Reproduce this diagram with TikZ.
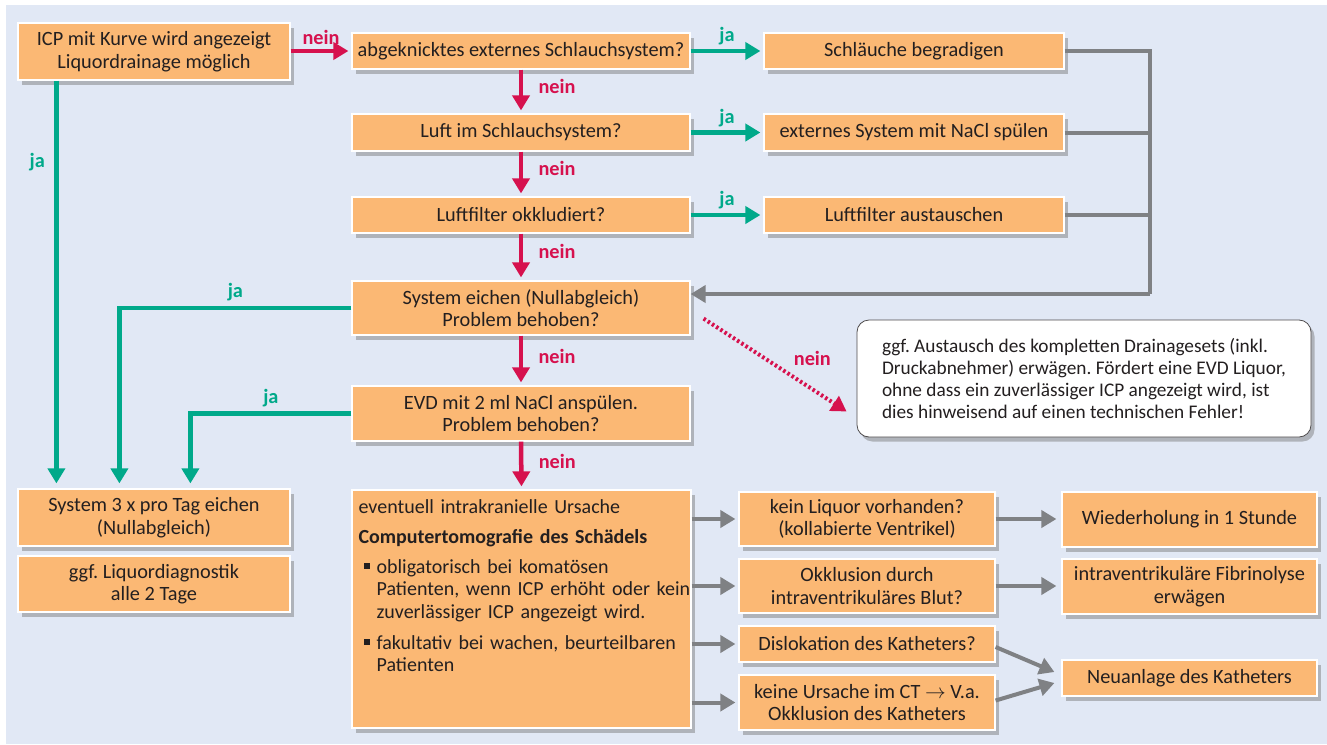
\documentclass[tikz,border=0pt]{standalone}
\usepackage{fontspec}
\setmainfont{Carlito}
\usetikzlibrary{arrows.meta,shadows,calc}
\definecolor{bgblue}{HTML}{E1E8F5}
\definecolor{boxor}{HTML}{FBB874}
\definecolor{neinred}{HTML}{D6114E}
\definecolor{jagreen}{HTML}{00A98A}
\definecolor{linegray}{HTML}{7F8184}
\definecolor{txt}{HTML}{231F20}
\tikzset{
  box/.style={draw=white, line width=1.2pt, fill=boxor, text=txt, align=center,
    inner sep=2pt, font=\fontsize{20.3}{22.5}\selectfont\frenchspacing,
    drop shadow={shadow xshift=3.5pt, shadow yshift=-4.5pt, fill=black!55, opacity=0.45}},
  notebox/.style={draw=txt!80, line width=0.8pt, fill=white, rounded corners=12pt, text=txt,
    align=left, font=\fontsize{19.3}{22}\selectfont\frenchspacing,
    drop shadow={shadow xshift=3.5pt, shadow yshift=-4.5pt, fill=black!55, opacity=0.45}},
  nein/.style={draw=neinred, line width=4.5pt, -{Triangle[length=15pt,width=17pt]}, shorten >=3pt},
  ja/.style={draw=jagreen, line width=4.5pt, -{Triangle[length=15pt,width=17pt]}, shorten >=3pt},
  grayarr/.style={draw=linegray, line width=4pt, -{Triangle[length=15pt,width=17pt]}, shorten >=3pt},
  grayline/.style={draw=linegray, line width=4pt},
  dotarr/.style={draw=neinred, line width=4pt, dash pattern=on 2.5pt off 2.5pt, -{Triangle[length=15pt,width=17pt]}},
  neinlab/.style={text=neinred, font=\fontsize{20.3}{22}\selectfont\bfseries},
  jalab/.style={text=jagreen, font=\fontsize{20.3}{22}\selectfont\bfseries},
}
\newcommand{\sqbullet}{\makebox[13pt][l]{\rule[0.22em]{0.3em}{0.3em}}}
\begin{document}
\begin{tikzpicture}[x=1pt,y=-1pt]
\useasboundingbox (0,0) rectangle (1327,744);
\fill[white] (0,0) rectangle (1327,744);
\fill[bgblue] (6,5) rectangle (1327,744);

% left column
\node[box, minimum width=272pt, minimum height=57pt] (A) at (154,51.5) {ICP mit Kurve wird angezeigt\\Liquordrainage möglich};
\node[box, minimum width=272pt, minimum height=57pt] (L1) at (154,517.5) {System 3 x pro Tag eichen\\(Nullabgleich)};
\node[box, minimum width=272pt, minimum height=56pt] (L2) at (154,584) {ggf. Liquordiagnostik\\alle 2 Tage};

% middle column
\node[box, minimum width=338pt, minimum height=36pt] (B) at (521,51) {abgeknicktes externes Schlauchsystem?};
\node[box, minimum width=338pt, minimum height=37pt] (C) at (521,132.5) {Luft im Schlauchsystem?};
\node[box, minimum width=338pt, minimum height=36pt] (D) at (521,215) {Luftfilter okkludiert?};
\node[box, minimum width=338pt, minimum height=54pt] (E) at (521,308) {System eichen (Nullabgleich)\\Problem behoben?};
\node[box, minimum width=338pt, minimum height=55pt] (F) at (521,413.5) {EVD mit 2 ml NaCl anspülen.\\Problem behoben?};
\node[box, minimum width=339pt, minimum height=238pt] (G) at (521.5,609) {};
\node[anchor=north west, text=txt, align=left, text width=360pt, inner sep=0pt,
  font=\fontsize{20}{22.5}\selectfont\frenchspacing] (Gtext) at ([xshift=7pt,yshift=-10pt]G.north west)
  {\raggedright eventuell intrakranielle Ursache\par\vspace{7.5pt}
   {\bfseries Computertomografie des Schädels}\par\vspace{7.5pt}
   \hangindent=18pt\hangafter=1\hspace*{5pt}\sqbullet obligatorisch bei komatösen\newline Patienten, wenn ICP erhöht oder kein\newline zuverlässiger ICP angezeigt wird.\par\vspace{8.5pt}
   \hangindent=18pt\hangafter=1\hspace*{5pt}\sqbullet fakultativ bei wachen, beurteilbaren\newline Patienten\par};

% right of middle
\node[box, minimum width=300pt, minimum height=36pt] (S1) at (914,51) {Schläuche begradigen};
\node[box, minimum width=300pt, minimum height=37pt] (S2) at (914,132.5) {externes System mit NaCl spülen};
\node[box, minimum width=300pt, minimum height=36pt] (S3) at (914,215) {Luftfilter austauschen};

\node[notebox, minimum width=454pt, minimum height=117pt] (N) at (1084,378.5)
  {ggf. Austausch des kompletten Drainagesets (inkl.\\Druckabnehmer) erwägen. Fördert eine EVD Liquor,\\ohne dass ein zuverlässiger ICP angezeigt wird, ist\\dies hinweisend auf einen technischen Fehler!};

% bottom right
\node[box, minimum width=256pt, minimum height=54pt] (R1) at (867,519) {kein Liquor vorhanden?\\(kollabierte Ventrikel)};
\node[box, minimum width=256pt, minimum height=54pt] (R2) at (867,586) {Okklusion durch\\intraventrikuläres Blut?};
\node[box, minimum width=256pt, minimum height=36pt] (R3) at (867,644) {Dislokation des Katheters?};
\node[box, minimum width=256pt, minimum height=55pt] (R4) at (867,702.5) {keine Ursache im CT $\rightarrow$ V.a.\\Okklusion des Katheters};
\node[box, minimum width=255pt, minimum height=55pt] (T1) at (1189.5,519.5) {Wiederholung in 1 Stunde};
\node[box, minimum width=255pt, minimum height=55pt] (T2) at (1189.5,586.5) {intraventrikuläre Fibrinolyse\\erwägen};
\node[box, minimum width=255pt, minimum height=36pt] (T3) at (1189.5,678) {Neuanlage des Katheters};

% nein arrows
\draw[nein] (A.east |- B.west) -- node[neinlab, above=1pt] (n0) {nein} (B.west);
\draw[nein] (B.south) -- node[neinlab, right=12pt, pos=0.38] (n1) {nein} (C.north);
\draw[nein] (C.south) -- node[neinlab, right=12pt, pos=0.38] (n2) {nein} (D.north);
\draw[nein] (D.south) -- node[neinlab, right=12pt, pos=0.38] (n3) {nein} (E.north);
\draw[nein] (E.south) -- node[neinlab, right=12pt, pos=0.42] (n4) {nein} (F.north);
\draw[nein] (F.south) -- node[neinlab, right=12pt, pos=0.42] (n5) {nein} (G.north);

% ja arrows right
\draw[ja] (B.east) -- node[jalab, above=0pt] (j1) {ja} (S1.west);
\draw[ja] (C.east) -- node[jalab, above=0pt] (j2) {ja} (S2.west);
\draw[ja] (D.east) -- node[jalab, above=0pt] (j3) {ja} (S3.west);

% ja arrows left
\draw[ja, shorten >=5pt] ([xshift=39pt]A.south west) -- node[jalab, left=6pt, pos=0.2] (j0) {ja} ([xshift=39pt]L1.north west);
\coordinate (ecorner) at ([xshift=102pt]L1.north west |- E.west);
\draw[ja, shorten >=5pt] (E.west) -- node[jalab, above=1pt] (j4) {ja} (ecorner) -- ([xshift=102pt]L1.north west);
\coordinate (fcorner) at ([xshift=173pt]L1.north west |- F.west);
\draw[ja, shorten >=5pt] (F.west) -- node[jalab, above=1pt] (j5) {ja} (fcorner) -- ([xshift=173pt]L1.north west);

% gray feedback
\coordinate (gcorner) at (1150,294);
\draw[grayline] (S1.east) -| (gcorner);
\draw[grayline] (S2.east) -- (S2.east -| gcorner);
\draw[grayline] (S3.east) -- (S3.east -| gcorner);
\draw[grayarr, shorten >=0pt] (gcorner) -- (gcorner -| E.east);

% dotted
\draw[dotarr] ([xshift=13pt,yshift=17pt]E.south east) -- node[neinlab, anchor=south west, xshift=2pt, yshift=2pt, pos=0.58] (n6) {nein} ([xshift=-10pt,yshift=-33pt]N.west);

% bottom gray arrows
\draw[grayarr] (R1.west -| G.east) -- (R1.west);
\draw[grayarr] (R2.west -| G.east) -- (R2.west);
\draw[grayarr] (R3.west -| G.east) -- (R3.west);
\draw[grayarr] (R4.west -| G.east) -- (R4.west);
\draw[grayarr, shorten >=5pt] (R1.east) -- (R1.east -| T1.west);
\draw[grayarr, shorten >=5pt] (R2.east) -- (R2.east -| T2.west);
\draw[grayarr, shorten >=0pt] ([yshift=-3pt]R3.east) -- ([xshift=-7pt,yshift=6pt]T3.west);
\draw[grayarr, shorten >=0pt] ([yshift=2pt]R4.east) -- ([xshift=-7pt,yshift=-5pt]T3.west);
\end{tikzpicture}
\end{document}
